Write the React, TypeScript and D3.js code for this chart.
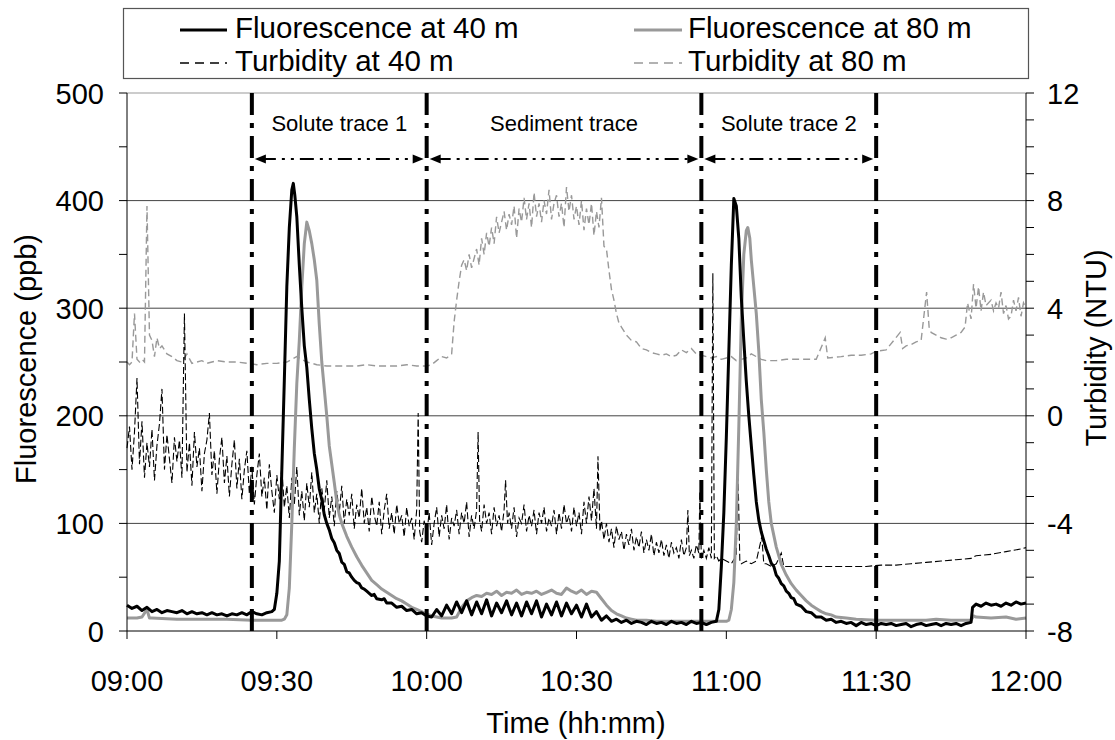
import React from "react";
import * as d3 from "d3";

// time in minutes after 09:00
const xTickMinutes = [0, 30, 60, 90, 120, 150, 180];
const xTickLabels = ["09:00", "09:30", "10:00", "10:30", "11:00", "11:30", "12:00"];
const leftTicks = [0, 100, 200, 300, 400, 500];
const rightTicks = [-8, -4, 0, 4, 8, 12];
const periodBounds = [25, 60, 115, 150];
const periodLabels = ["Solute trace 1", "Sediment trace", "Solute trace 2"];

const fluor40: [number, number][] = [
  [0, 24], [1, 21], [2, 23], [3, 19], [4, 22], [5, 18], [6, 20], [7, 17], [8, 19], [9, 18], [10, 17], [11, 19], [12, 16], [13, 18], [14, 16], [15, 17], [16, 15], [17, 17], [18, 15], [19, 16], [20, 14], [21, 16], [22, 15], [23, 17], [24, 15], [25, 18], [26, 16], [27, 15], [28, 17], [29, 18],
  [29.5, 20], [30, 35], [30.5, 65], [31, 150], [31.5, 233], [32, 320], [32.5, 375], [33, 410], [33.3, 416], [33.6, 405], [34, 385], [34.5, 340], [35, 300], [35.5, 265], [36, 245], [36.5, 215], [37, 188], [37.5, 165], [38, 150], [38.5, 132], [39, 122], [39.5, 108], [40, 100], [40.5, 94], [41, 86], [41.5, 82], [42, 75], [42.5, 72], [43, 64], [43.5, 62], [44, 55], [44.5, 54], [45, 50], [45.5, 47], [46, 45], [46.5, 44], [47, 40], [47.5, 39], [48, 37], [48.5, 35], [49, 33], [49.5, 34], [50, 30], [51, 29], [51.5, 30], [52, 26], [53, 26], [54, 22], [55, 23], [56, 19], [57, 20], [58, 16], [59, 17], [60, 14], [61, 13],
  [62, 20], [63, 14], [64, 24], [65, 16], [66, 27], [67, 17], [68, 28], [69, 15], [70, 27], [71, 16], [72, 29], [73, 14], [74, 26], [75, 17], [76, 28], [77, 15], [78, 26], [79, 14], [80, 27], [81, 16], [82, 28], [83, 13], [84, 25], [85, 15], [86, 27], [87, 14], [88, 26], [89, 16], [90, 24], [91, 13], [92, 25], [93, 13],
  [94, 18], [95, 10], [96, 14], [97, 9], [98, 11], [99, 8], [100, 10], [101, 7], [102, 9], [103, 8], [104, 6], [105, 9], [106, 7], [107, 8], [108, 6], [109, 9], [110, 7], [111, 8], [112, 6], [113, 9], [114, 7], [115, 8], [116, 6], [117, 8], [118, 9],
  [118.5, 20], [119, 60], [119.5, 110], [120, 180], [120.5, 260], [121, 340], [121.5, 402], [122, 395], [122.5, 365], [123, 310], [123.5, 270], [124, 232], [124.5, 200], [125, 172], [125.5, 145], [126, 120], [126.5, 103], [127, 92], [127.5, 84], [128, 76], [128.5, 70], [129, 63], [129.5, 60], [130, 52], [130.5, 49], [131, 44], [131.5, 42], [132, 37], [132.5, 35], [133, 31], [133.5, 30], [134, 25], [135, 23], [136, 18], [137, 17], [138, 13], [139, 13], [140, 10], [141, 11], [142, 8], [143, 9], [144, 7], [145, 8], [146, 5], [147, 8], [148, 6], [149, 7], [150, 5], [151, 7], [152, 6], [153, 7], [154, 5], [155, 6], [156, 7], [157, 4], [158, 6], [159, 7], [160, 5], [161, 6], [162, 7], [163, 5], [164, 7], [165, 6], [166, 7], [167, 5], [168, 7], [169, 8],
  [169.3, 22], [170, 25], [171, 23], [172, 26], [173, 24], [174, 25], [175, 23], [176, 26], [177, 24], [178, 27], [179, 25], [180, 26],
];

const fluor80: [number, number][] = [
  [0, 12], [1, 12], [2, 12], [3, 13], [4, 20], [4.5, 12], [5, 12], [10, 11], [15, 11], [20, 11], [25, 10], [30, 10], [31, 10], [31.5, 11],
  [32, 15], [32.5, 40], [33, 100], [33.5, 170], [34, 230], [34.5, 270], [35, 320], [35.5, 360], [36, 380], [36.5, 372], [37, 360], [37.5, 345], [38, 326], [38.5, 285], [39, 250], [39.5, 225], [40, 200], [40.5, 172], [41, 155], [41.5, 138], [42, 120], [42.5, 108], [43, 100], [44, 88], [45, 78], [46, 69], [47, 61], [48, 54], [49, 47], [50, 43], [51, 39], [52, 36], [53, 33], [54, 30], [55, 28], [56, 25], [57, 22], [58, 20], [59, 18], [60, 16], [61, 14], [62, 13], [63, 12], [64, 12], [65, 12], [66, 13],
  [67, 22], [68, 28], [69, 31], [70, 33], [71, 32], [72, 35], [73, 34], [74, 37], [75, 33], [76, 36], [77, 35], [78, 38], [79, 34], [80, 36], [81, 35], [82, 37], [83, 34], [84, 36], [85, 38], [86, 35], [87, 34], [88, 40], [89, 37], [90, 35], [91, 38], [92, 34], [93, 37], [94, 36],
  [95, 30], [96, 24], [97, 19], [98, 16], [99, 14], [100, 12], [101, 11], [102, 10], [104, 10], [106, 9], [110, 9], [114, 9], [118, 9], [120, 9], [120.5, 10],
  [121, 20], [121.5, 45], [122, 100], [122.5, 190], [123, 290], [123.5, 350], [124, 372], [124.3, 375], [124.7, 365], [125, 345], [125.5, 320], [126, 295], [126.5, 260], [127, 215], [127.5, 185], [128, 150], [128.5, 120], [129, 100], [130, 78], [131, 62], [132, 52], [133, 44], [134, 38], [135, 33], [136, 28], [137, 24], [138, 21], [139, 18], [140, 16], [141, 15], [142, 13], [144, 12], [146, 11], [150, 10], [155, 10], [160, 10], [162, 11], [165, 10], [168, 10], [169, 10],
  [169.5, 14], [170, 13], [173, 12], [176, 13], [178, 11], [180, 12],
];

const turb40: [number, number][] = [
  [0, -1.2], [0.5, -0.4], [1, -2.0], [1.5, -0.6], [2, 1.4], [2.5, -1.8], [3, -0.2], [3.5, -2.3], [4, -1.0], [4.5, -1.9], [5, -0.5], [5.5, -2.4], [6, -1.1], [6.5, -0.3], [7, 1.0], [7.5, -2.0], [8, -0.7], [8.5, -1.6], [9, -2.5], [9.5, -0.8], [10, -1.7], [10.5, -0.9], [11, -2.3], [11.5, 3.8], [12, -2.1], [12.5, -1.0], [13, -2.6], [13.5, -0.6], [14, -1.9], [14.5, -1.2], [15, -2.8], [15.5, -1.4], [16, -0.9], [16.5, 0.1], [17, -2.2], [17.5, -1.3], [18, -2.9], [18.5, -1.6], [19, -0.8], [19.5, -2.5], [20, -1.5], [20.5, -3.0], [21, -1.8], [21.5, -0.9], [22, -2.7], [22.5, -1.6], [23, -3.1], [23.5, -2.0], [24, -1.3], [24.5, -2.9], [25, -1.9], [25.5, -3.3], [26, -2.2], [26.5, -1.4], [27, -3.0], [27.5, -2.3], [28, -3.5], [28.5, -1.8], [29, -2.8], [29.5, -3.6],
  [30, -2.2], [30.5, -3.1], [31, -1.9], [31.5, -3.4], [32, -2.6], [32.5, -3.8], [33, -2.3], [33.5, -3.3], [34, -1.9], [34.5, -3.7], [35, -2.8], [35.5, -3.9], [36, -2.5], [36.5, -3.4], [37, -2.1], [37.5, -3.6], [38, -2.9], [38.5, -4.0], [39, -2.7], [39.5, -3.5], [40, -2.4], [40.5, -3.8], [41, -3.0], [41.5, -4.1], [42, -2.8], [42.5, -3.6], [43, -2.6], [43.5, -4.0], [44, -3.1], [44.5, -3.7], [45, -2.9], [45.5, -4.2], [46, -3.3], [46.5, -3.8], [47, -2.7], [47.5, -4.0], [48, -3.4], [48.5, -4.3], [49, -3.0], [49.5, -3.7], [50, -4.1], [50.5, -3.2], [51, -4.4], [51.5, -3.5], [52, -2.9], [52.5, -4.2], [53, -3.6], [53.5, -4.4], [54, -3.3], [54.5, -4.0], [55, -3.7], [55.5, -4.5], [56, -3.4], [56.5, -4.1], [57, -3.8], [57.5, -4.6], [58, -3.5], [58.3, 0.1], [58.6, -4.3], [59, -4.7], [59.5, -3.9],
  [60, -4.4], [60.5, -3.6], [61, -4.8], [61.5, -4.0], [62, -3.4], [62.5, -4.5], [63, -3.7], [63.5, -4.2], [64, -3.3], [64.5, -4.6], [65, -3.8], [65.5, -4.1], [66, -3.5], [66.5, -4.4], [67, -3.6], [67.5, -4.0], [68, -3.2], [68.5, -4.5], [69, -3.7], [69.5, -4.2], [70, -3.5], [70.3, -0.6], [70.6, -3.9], [71, -4.3], [71.5, -3.3], [72, -4.0], [72.5, -3.6], [73, -4.4], [73.5, -3.4], [74, -4.1], [74.5, -3.7], [75, -4.3], [75.5, -3.5], [75.8, -2.4], [76.2, -4.0], [76.5, -3.6], [77, -4.2], [77.5, -3.4], [78, -4.5], [78.5, -3.8], [79, -4.0], [79.5, -3.3], [80, -4.3], [80.5, -3.7], [81, -4.1], [81.5, -3.5], [82, -4.4], [82.5, -3.6], [83, -4.0], [83.5, -3.4], [84, -4.3], [84.5, -3.8], [85, -4.1], [85.5, -3.5], [86, -4.4], [86.5, -3.6], [87, -4.2], [87.5, -3.3], [88, -4.0], [88.5, -3.7], [89, -4.3], [89.5, -3.4],
  [90, -4.1], [90.5, -3.6], [91, -4.4], [91.5, -3.2], [92, -4.0], [92.5, -3.0], [93, -3.9], [93.5, -2.7], [94, -4.2], [94.3, -1.5], [94.7, -4.3], [95, -3.9], [95.5, -4.6], [96, -4.0], [96.5, -4.7], [97, -4.2], [97.5, -4.9], [98, -4.1], [98.5, -4.6], [99, -4.3], [99.5, -5.0], [100, -4.4], [100.5, -4.8], [101, -4.2], [101.5, -5.0], [102, -4.5], [102.5, -4.9], [103, -4.3], [103.5, -5.1], [104, -4.6], [104.5, -5.0], [105, -4.4], [105.5, -5.2], [106, -4.7], [106.5, -5.1], [107, -4.6], [107.5, -5.2], [108, -4.8], [108.5, -5.3], [109, -4.7], [109.5, -5.1], [110, -4.9], [110.5, -5.3], [111, -4.6], [111.5, -5.2], [112, -4.9], [112.3, -3.5], [112.6, -5.2], [113, -5.0], [113.5, -5.3], [114, -4.8], [114.5, -5.1], [114.7, -2.8], [115, -5.3], [115.5, -5.0], [116, -5.3], [116.5, -4.9], [117, -5.3], [117.3, 5.3], [117.6, -5.3], [118, -5.2], [118.5, -5.4],
  [119, -5.3], [120, -5.4], [121, -5.5], [122, -5.2], [122.3, -1.8], [122.7, -5.4], [123, -5.5], [124, -5.4], [125, -5.5], [126, -5.4], [127.1, -4.5], [127.5, -5.5], [128, -5.5], [129, -5.6], [130, -5.5], [131, -5.1], [131.5, -5.6], [133, -5.6], [136, -5.6], [139, -5.6], [142, -5.6], [145, -5.6], [148, -5.6], [151, -5.55], [154, -5.55], [157, -5.5], [160, -5.45], [163, -5.4], [166, -5.35], [169, -5.3], [170, -5.2], [173, -5.15], [176, -5.05], [179, -4.95], [180, -4.9],
];

const turb80: [number, number][] = [
  [0, 2.0], [0.5, 1.9], [1, 2.0], [1.5, 3.8], [2, 2.1], [2.5, 2.0], [3, 2.1], [3.5, 2.0], [4, 7.8], [4.5, 3.0], [5, 2.8], [5.5, 2.2], [6, 2.9], [6.5, 2.5], [7, 2.6], [8, 2.3], [9, 2.2], [10, 2.05], [11, 2.0], [12, 2.3], [13, 1.95], [14, 2.0], [15, 2.05], [16, 1.95], [17, 2.0], [18, 2.05], [20, 2.0], [22, 2.0], [24, 1.95], [26, 1.9], [28, 1.95], [30, 1.95], [32, 2.0], [34, 2.2], [35, 2.1], [36, 2.0], [38, 1.9], [40, 1.85], [42, 1.85], [44, 1.85], [46, 1.85], [48, 1.9], [50, 1.85], [52, 1.85], [54, 1.85], [56, 1.9], [58, 1.85], [60, 1.85], [61, 1.9], [62, 2.05], [63, 2.2], [64, 2.15], [65, 2.3],
  [65.5, 3.5], [66, 4.3], [66.5, 5.0], [67, 5.6], [67.5, 5.8], [68, 5.4], [68.5, 6.0], [69, 5.5], [70, 6.2], [70.5, 5.6], [71, 6.6], [71.5, 6.0], [72, 6.8], [72.5, 6.3], [73, 7.0], [73.5, 6.4], [74, 7.4], [74.5, 6.8], [75, 7.2], [75.5, 7.6], [76, 6.9], [76.5, 7.5], [77, 7.1], [77.5, 7.8], [78, 6.6], [78.5, 7.7], [79, 7.2], [79.5, 8.1], [80, 7.3], [80.5, 7.9], [81, 7.0], [81.5, 8.3], [82, 7.4], [82.5, 7.9], [83, 7.2], [83.5, 8.0], [84, 7.5], [84.5, 8.4], [85, 7.3], [85.5, 7.9], [86, 8.2], [86.5, 7.4], [87, 7.9], [87.5, 7.0], [88, 8.5], [88.5, 7.6], [89, 8.2], [89.5, 7.3], [90, 7.8], [90.5, 7.1], [91, 8.0], [91.5, 6.9], [92, 7.7], [92.5, 7.1], [93, 7.9], [93.5, 6.7], [94, 7.6], [94.5, 7.0], [95, 8.1], [95.5, 6.3],
  [96, 6.2], [96.5, 5.4], [97, 4.7], [97.5, 4.3], [98, 3.8], [98.5, 3.45], [99, 3.3], [100, 3.0], [101, 2.8], [102, 2.75], [103, 2.5], [104, 2.45], [105, 2.35], [106, 2.3], [107, 2.25], [108, 2.3], [109, 2.2], [110, 2.25], [111, 2.45], [112, 2.35], [113, 2.5], [114, 2.3], [115, 2.25], [116, 2.2], [117, 2.15], [118, 2.2], [119, 2.1], [120, 2.15], [121, 2.2], [122, 2.05], [123, 2.1], [124, 2.15], [125, 2.3], [126, 2.2], [127, 2.1], [128, 2.05], [130, 2.05], [132, 2.1], [134, 2.1], [136, 2.1], [138, 2.1], [139.8, 2.9], [140.3, 2.15], [143, 2.2], [145, 2.25], [147, 2.25], [149, 2.3], [150, 2.4], [152, 2.45], [154.8, 3.1], [155.3, 2.5], [156, 2.6], [157, 2.65], [158, 2.75], [159, 2.8], [160.1, 4.6], [160.6, 3.3], [161, 3.1], [162, 3.0], [163, 2.9], [164, 2.85], [165, 2.9], [166, 3.0], [167, 3.1], [167.8, 3.3], [168.3, 4.2], [169, 3.6], [169.5, 4.9], [170, 4.0], [170.5, 4.8], [171, 3.9], [171.5, 4.6], [172, 4.1], [173, 4.3], [173.5, 3.9], [174, 4.2], [174.5, 4.0], [175, 4.6], [175.5, 3.8], [176, 4.1], [176.5, 3.6], [177, 3.7], [177.5, 4.3], [178, 3.9], [178.5, 4.4], [179, 3.7], [179.5, 4.2], [180, 4.0],
];

const W = 1115;
const H = 740;
const FONT = "'Liberation Sans', Arial, sans-serif";

export default function App() {
  const x = d3.scaleLinear().domain([0, 180]).range([127, 1026]);
  const yL = d3.scaleLinear().domain([0, 500]).range([631, 93]);
  const yR = d3.scaleLinear().domain([-8, 12]).range([631, 93]);

  const lineL = d3.line<[number, number]>().x((d) => x(d[0])).y((d) => yL(d[1]));
  const lineR = d3.line<[number, number]>().x((d) => x(d[0])).y((d) => yR(d[1]));

  const leftMinor = d3.range(0, 501, 50);
  const rightMinor = d3.range(-8, 13, 1);
  const arrowY = 159;

  const arrows = periodLabels.map((lab, i) => ({
    lab,
    a: x(periodBounds[i]),
    b: x(periodBounds[i + 1]),
  }));

  return (
    <svg width={W} height={H} style={{ position: "absolute", left: 0, top: 0, background: "#fff" }} fontFamily={FONT}>
      <rect x={0} y={0} width={W} height={H} fill="#fff" />
      {/* legend */}
      <rect x={123.5} y={8.5} width={905} height={70} fill="#fff" stroke="#555" strokeWidth={1.2} />
      <line x1={180} x2={227} y1={30} y2={30} stroke="#000" strokeWidth={3} />
      <text x={235} y={38} fontSize={29.5}>Fluorescence at 40 m</text>
      <line x1={634} x2={682} y1={30} y2={30} stroke="#999" strokeWidth={3} />
      <text x={688} y={38} fontSize={29.5}>Fluorescence at 80 m</text>
      <line x1={180} x2={227} y1={63} y2={63} stroke="#000" strokeWidth={1.3} strokeDasharray="9,6" />
      <text x={235} y={71} fontSize={29.5}>Turbidity at 40 m</text>
      <line x1={634} x2={682} y1={63} y2={63} stroke="#999" strokeWidth={1.5} strokeDasharray="9,6" />
      <text x={688} y={71} fontSize={29.5}>Turbidity at 80 m</text>

      {/* gridlines */}
      {[100, 200, 300, 400].map((v) => (
        <line key={v} x1={x(0)} x2={x(180)} y1={yL(v)} y2={yL(v)} stroke="#444" strokeWidth={1} />
      ))}
      <line x1={x(0)} x2={x(180)} y1={yL(500)} y2={yL(500)} stroke="#999" strokeWidth={1.2} />

      {/* series */}
      <path d={lineR(turb80) || ""} fill="none" stroke="#999" strokeWidth={1.4} strokeDasharray="7,4" />
      <path d={lineR(turb40) || ""} fill="none" stroke="#000" strokeWidth={1.1} strokeDasharray="7,3" />
      <path d={lineL(fluor80) || ""} fill="none" stroke="#999" strokeWidth={3} strokeLinejoin="round" />
      <path d={lineL(fluor40) || ""} fill="none" stroke="#000" strokeWidth={3} strokeLinejoin="round" />

      {/* period boundaries */}
      {periodBounds.map((m) => (
        <line key={m} x1={x(m)} x2={x(m)} y1={93} y2={631} stroke="#000" strokeWidth={4} strokeDasharray="22,8,5,8" />
      ))}
      {arrows.map((ar, i) => (
        <g key={i}>
          <line x1={ar.a + 10} x2={ar.b - 10} y1={arrowY} y2={arrowY} stroke="#000" strokeWidth={2} strokeDasharray="14,6,3,6,3,6" />
          <path d={`M${ar.a + 3},${arrowY} L${ar.a + 14},${arrowY - 4.5} L${ar.a + 14},${arrowY + 4.5} Z`} fill="#000" />
          <path d={`M${ar.b - 3},${arrowY} L${ar.b - 14},${arrowY - 4.5} L${ar.b - 14},${arrowY + 4.5} Z`} fill="#000" />
          <text x={(ar.a + ar.b) / 2} y={131} fontSize={22} textAnchor="middle">{ar.lab}</text>
        </g>
      ))}

      {/* axes */}
      <line x1={x(0)} x2={x(0)} y1={93} y2={631} stroke="#000" strokeWidth={1} />
      <line x1={x(180)} x2={x(180)} y1={93} y2={631} stroke="#000" strokeWidth={1} />
      <line x1={x(0)} x2={x(180)} y1={631} y2={631} stroke="#000" strokeWidth={1} />
      {leftMinor.map((v) => (
        <line key={"lm" + v} x1={x(0) - 8} x2={x(0)} y1={yL(v)} y2={yL(v)} stroke="#000" strokeWidth={1} />
      ))}
      {rightMinor.map((v) => (
        <line key={"rm" + v} x1={x(180)} x2={x(180) + 8} y1={yR(v)} y2={yR(v)} stroke="#000" strokeWidth={1} />
      ))}
      {xTickMinutes.map((m, i) => (
        <g key={"xt" + m}>
          <line x1={x(m)} x2={x(m)} y1={631} y2={639} stroke="#000" strokeWidth={1} />
          <text x={x(m)} y={691} fontSize={29} textAnchor="middle">{xTickLabels[i]}</text>
        </g>
      ))}
      {leftTicks.map((v) => (
        <text key={"lt" + v} x={104} y={yL(v) + 10.5} fontSize={29} textAnchor="end">{v}</text>
      ))}
      {rightTicks.map((v) => (
        <text key={"rt" + v} x={1047} y={yR(v) + 10.5} fontSize={29} textAnchor="start">{v}</text>
      ))}
      <text x={576} y={733} fontSize={29} textAnchor="middle">Time (hh:mm)</text>
      <text transform="translate(36,359) rotate(-90)" fontSize={29} textAnchor="middle">Fluorescence (ppb)</text>
      <text transform="translate(1106,348) rotate(-90)" fontSize={29} textAnchor="middle">Turbidity (NTU)</text>
    </svg>
  );
}
